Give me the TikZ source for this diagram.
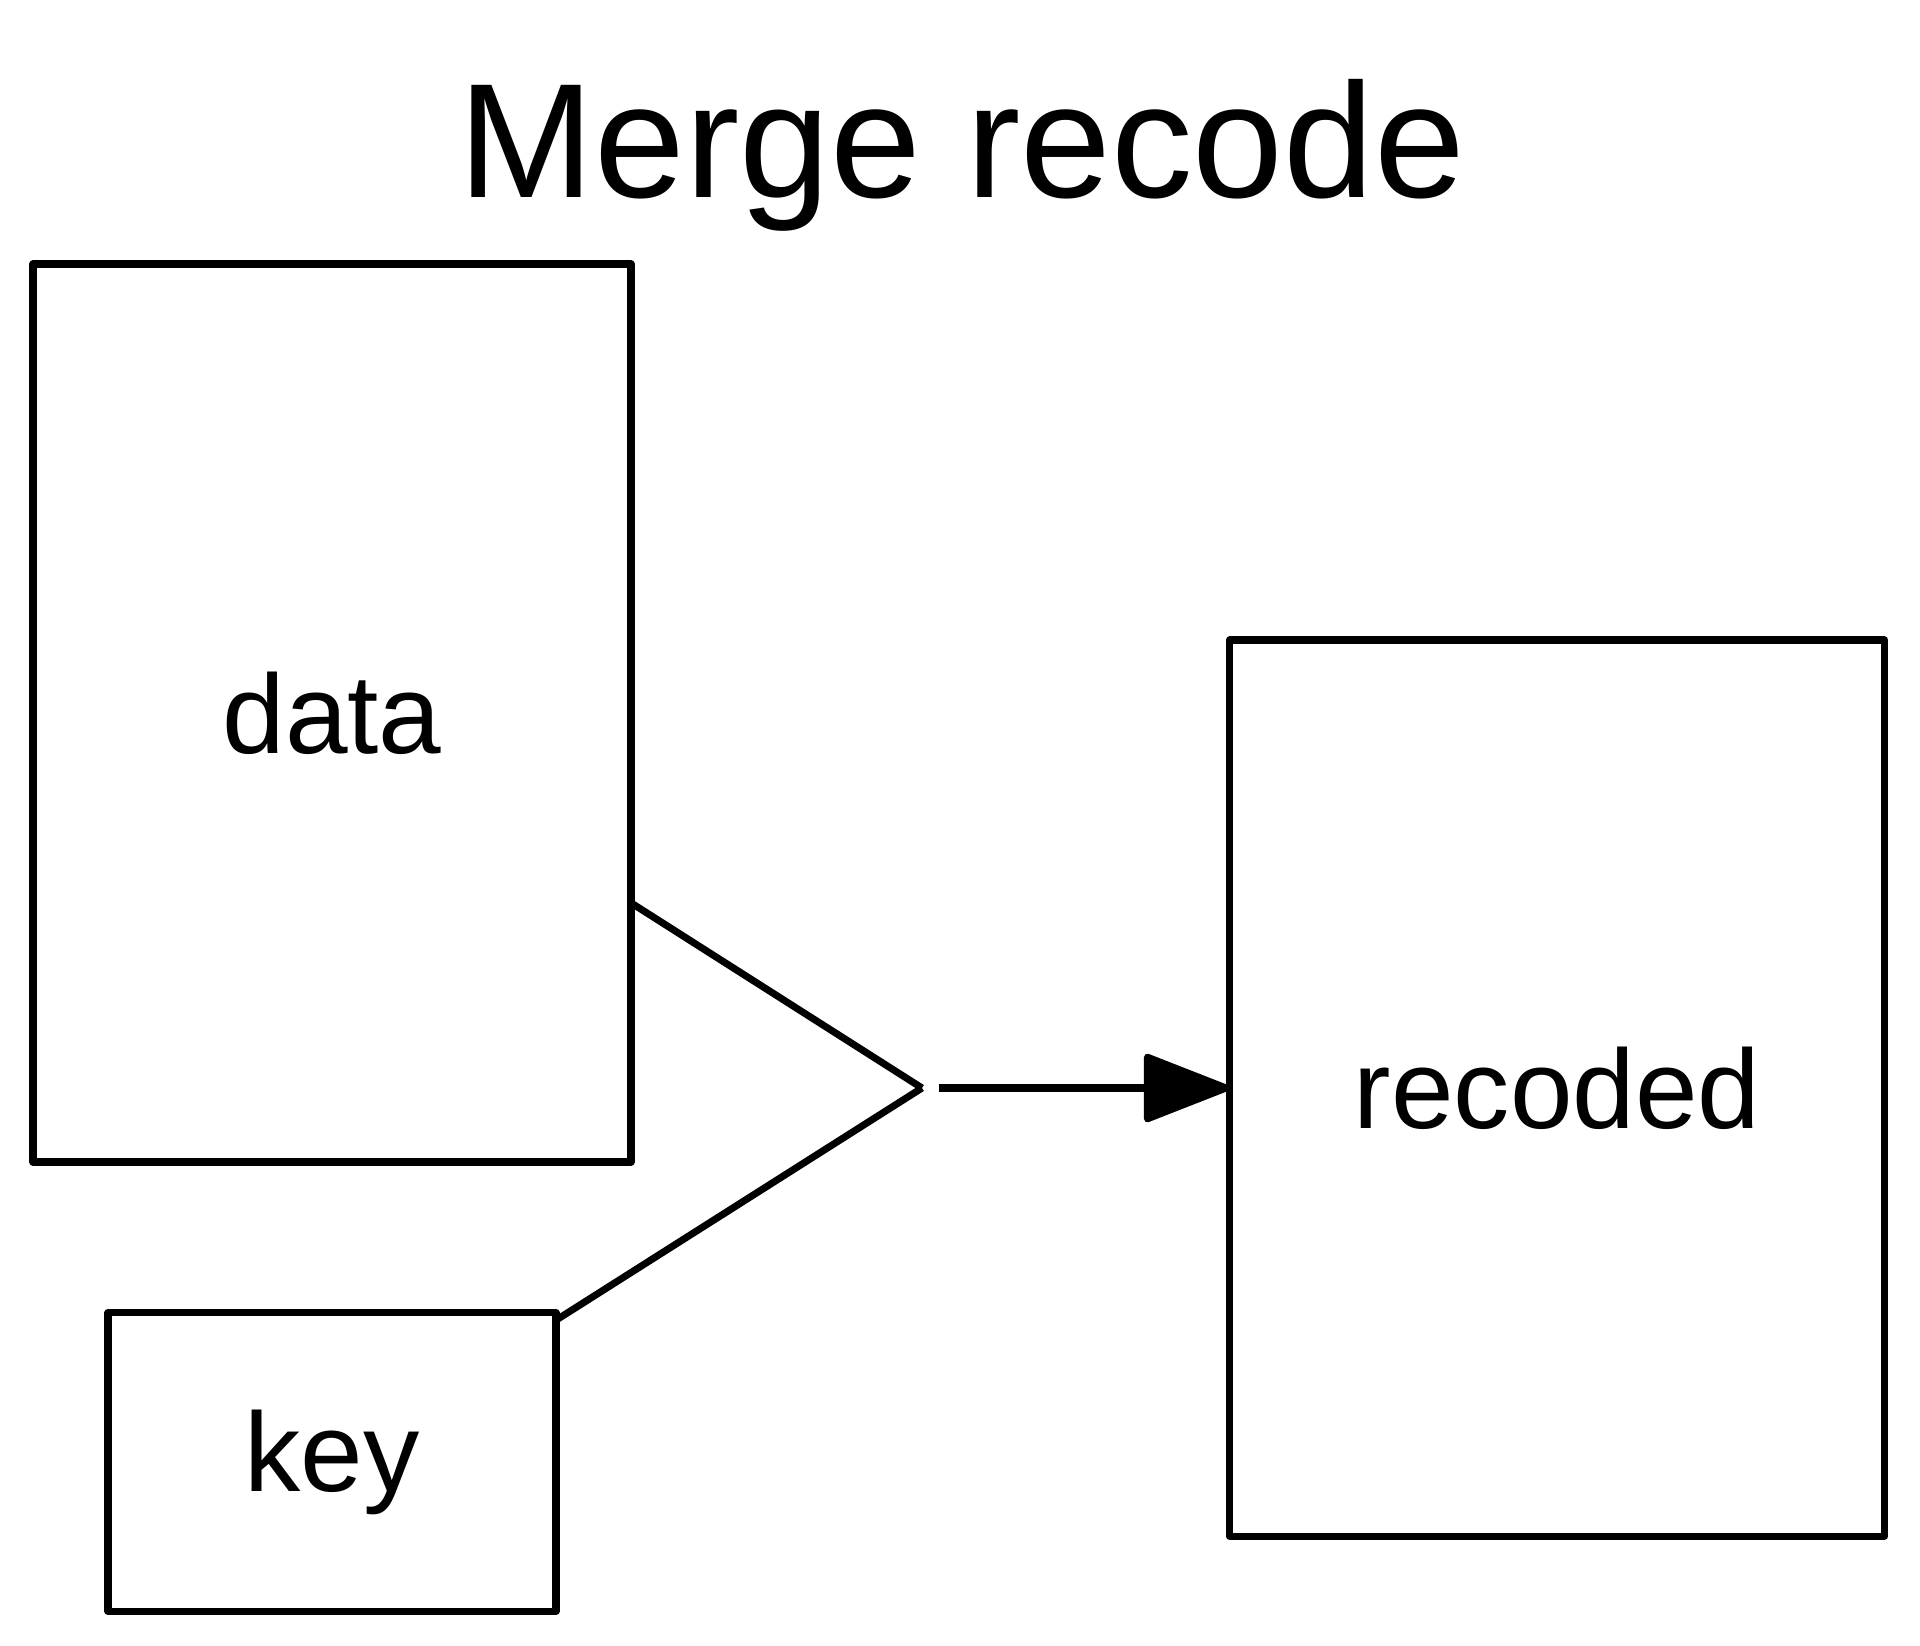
\documentclass[tikz,border=0pt]{standalone}
\usepackage{fontspec}
\setmainfont{Liberation Sans}
\usepackage{tikz}
\usetikzlibrary{arrows.meta, positioning}
\tikzstyle{box}=[draw,fill=white,rectangle,inner sep=0pt,outer sep=0pt]
\tikzstyle{every node}=[font=\fontsize{32}{38}\selectfont]
\newcommand{\titlesize}{\fontsize{46.4}{55}\selectfont}

\begin{document}
\begin{tikzpicture}[>={Triangle[length=9.2mm,width=7mm,round]}, line width=2pt, line join=round]
    \useasboundingbox (0,0) rectangle (19.2,-16.46);
    \node[anchor=base] (title) at (9.62,-1.98) {\titlesize Merge recode};
    \node[box, minimum width=5.98cm, minimum height=8.98cm] (data) at (3.32,-7.13) {data};
    \node[box, minimum width=4.48cm, minimum height=2.99cm, below of=data, node distance=7.49cm] (key) {key};
    \coordinate (join) at (9.22,-10.88);
    \node[box, minimum width=6.55cm, minimum height=8.96cm, right of=join, node distance=6.35cm] (recoded) {recoded};
    \draw (join) -- (data);
    \draw (join) -- (key);
    \draw[->, shorten <=1.7mm] (join) -- (recoded);
\end{tikzpicture}
\end{document}
